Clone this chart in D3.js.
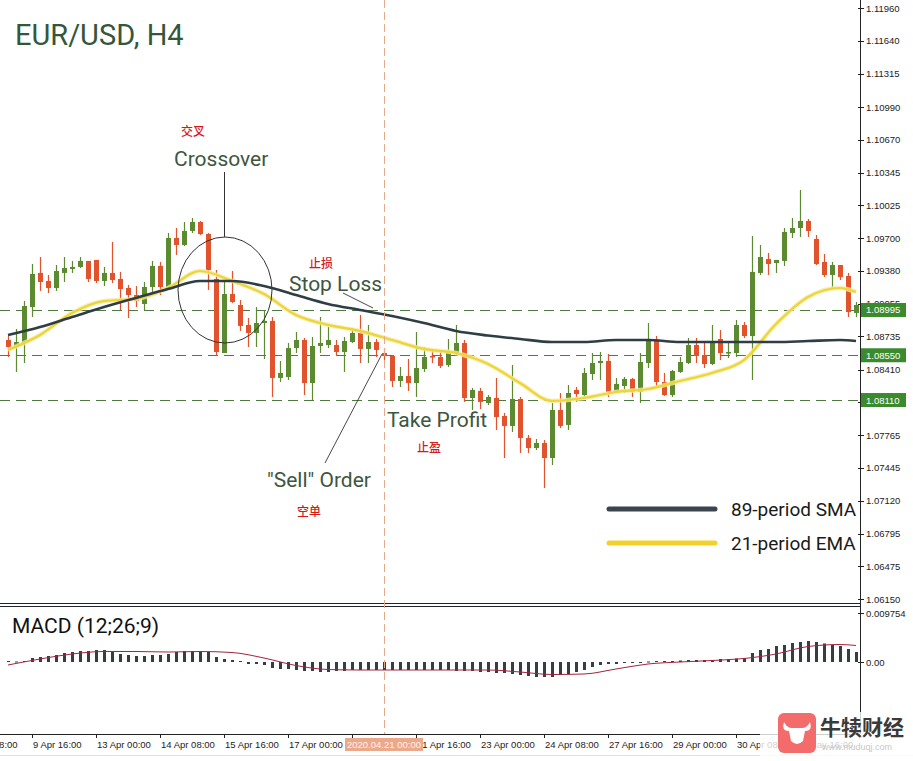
<!DOCTYPE html>
<html><head><meta charset="utf-8">
<script src="https://cdn.jsdelivr.net/npm/d3@7"></script>
<style>
html,body{margin:0;padding:0;background:#fff;}
svg{display:block;}
</style></head>
<body>
<svg id="chart" width="913" height="761"></svg>
<script>
// EUR/USD H4 candles, 8 Apr 2020 .. 1 May 2020
const candleOpen = [1.08700,1.08631,1.08671,1.09024,1.09359,1.09280,1.09211,1.09359,1.09398,1.09418,
1.09477,1.09487,1.09280,1.09359,1.09300,1.09211,1.09142,1.09054,1.09221,1.09428,
1.09211,1.09703,1.09634,1.09772,1.09860,1.09742,1.09300,1.08572,1.09152,1.09044,
1.08848,1.08769,1.08867,1.08887,1.08327,1.08336,1.08621,1.08700,1.08277,1.08641,
1.08651,1.08651,1.08582,1.08680,1.08769,1.08612,1.08680,1.08572,1.08543,1.08297,
1.08346,1.08277,1.08415,1.08543,1.08533,1.08454,1.08572,1.08671,1.08130,1.08199,
1.08081,1.08130,1.07953,1.07855,1.08120,1.07737,1.07638,1.07688,1.07540,1.08012,
1.07865,1.08209,1.08159,1.08366,1.08474,1.08494,1.08189,1.08248,1.08317,1.08189,
1.08474,1.08690,1.08287,1.08159,1.08386,1.08474,1.08651,1.08553,1.08464,1.08710,
1.08572,1.08572,1.08848,1.08739,1.09359,1.09496,1.09457,1.09477,1.09752,1.09801,
1.09870,1.09693,1.09467,1.09339,1.09437,1.09329,1.08966];
const candleHigh = [1.08739,1.08808,1.09083,1.09447,1.09516,1.09339,1.09437,1.09516,1.09477,1.09516,
1.09477,1.09487,1.09418,1.09663,1.09369,1.09241,1.09231,1.09270,1.09477,1.09467,
1.09752,1.09801,1.09860,1.09899,1.09870,1.09752,1.09388,1.09290,1.09378,1.09093,
1.08916,1.09024,1.08995,1.08926,1.08494,1.08671,1.08779,1.08720,1.08730,1.08926,
1.08828,1.08700,1.08730,1.08818,1.08946,1.08848,1.08710,1.08621,1.08553,1.08435,
1.08513,1.08779,1.08631,1.08612,1.08602,1.08710,1.08848,1.08700,1.08228,1.08228,
1.08159,1.08327,1.07983,1.08454,1.08140,1.07766,1.07727,1.07717,1.08081,1.08179,
1.08258,1.08238,1.08425,1.08572,1.08582,1.08562,1.08327,1.08336,1.08327,1.08572,
1.08867,1.08739,1.08376,1.08405,1.08533,1.08720,1.08720,1.08671,1.08848,1.08798,
1.08690,1.08897,1.08877,1.09722,1.09634,1.09555,1.09487,1.09801,1.09899,1.10175,
1.09890,1.09732,1.09545,1.09467,1.09437,1.09359,1.09074];
const candleLow = [1.08533,1.08386,1.08474,1.08926,1.09182,1.09162,1.09182,1.09270,1.09359,1.09408,
1.09270,1.09260,1.09231,1.09260,1.08995,1.08916,1.09024,1.08995,1.09162,1.09142,
1.09201,1.09536,1.09624,1.09752,1.09732,1.09192,1.08543,1.08572,1.09064,1.08789,
1.08631,1.08631,1.08513,1.08140,1.08287,1.08307,1.08572,1.08159,1.08110,1.08572,
1.08621,1.08543,1.08386,1.08671,1.08474,1.08474,1.08533,1.08503,1.08238,1.08238,
1.08199,1.08140,1.08386,1.08474,1.08425,1.08435,1.08553,1.08091,1.08012,1.08022,
1.08061,1.07815,1.07540,1.07796,1.07589,1.07589,1.07619,1.07245,1.07471,1.07835,
1.07815,1.08091,1.08140,1.08307,1.08307,1.08140,1.08179,1.08179,1.08140,1.08081,
1.08425,1.08228,1.08150,1.08140,1.08376,1.08464,1.08474,1.08425,1.08454,1.08503,
1.08523,1.08533,1.08720,1.08307,1.09339,1.09339,1.09359,1.09428,1.09703,1.09713,
1.09713,1.09437,1.09319,1.09211,1.09290,1.08926,1.08926];
const candleClose = [1.08631,1.08680,1.09034,1.09349,1.09270,1.09211,1.09378,1.09408,1.09418,1.09477,
1.09300,1.09280,1.09359,1.09290,1.09201,1.09142,1.09083,1.09221,1.09428,1.09221,
1.09703,1.09634,1.09772,1.09860,1.09742,1.09388,1.08582,1.09152,1.09074,1.08838,
1.08769,1.08867,1.08887,1.08327,1.08376,1.08621,1.08700,1.08277,1.08641,1.08671,
1.08700,1.08582,1.08690,1.08769,1.08612,1.08680,1.08602,1.08543,1.08297,1.08346,
1.08277,1.08425,1.08533,1.08533,1.08445,1.08582,1.08671,1.08130,1.08209,1.08091,
1.08140,1.07943,1.07855,1.08120,1.07737,1.07638,1.07688,1.07540,1.08012,1.07855,
1.08179,1.08169,1.08376,1.08474,1.08494,1.08189,1.08268,1.08317,1.08189,1.08484,
1.08690,1.08287,1.08159,1.08395,1.08484,1.08651,1.08543,1.08464,1.08680,1.08572,
1.08582,1.08848,1.08739,1.09369,1.09516,1.09447,1.09487,1.09762,1.09801,1.09870,
1.09772,1.09447,1.09339,1.09437,1.09319,1.08975,1.09044];

// moving averages, read at every 4th candle
const maCandle = [0,4,8,12,16,20,24,28,32,36,40,44,48,52,56,60,64,68,72,76,80,84,88,92,96,100,104,106];
const sma89 = [1.08749,1.08828,1.08926,1.09024,1.09113,1.09201,1.09280,1.09280,1.09231,1.09142,
1.09054,1.08995,1.08936,1.08867,1.08789,1.08744,1.08710,1.08680,1.08680,1.08700,
1.08700,1.08680,1.08680,1.08680,1.08680,1.08690,1.08700,1.08690];
const ema21 = [1.08602,1.08749,1.08966,1.09083,1.09103,1.09211,1.09378,1.09280,1.09152,1.08946,
1.08848,1.08789,1.08700,1.08612,1.08572,1.08464,1.08277,1.08101,1.08130,1.08189,
1.08218,1.08297,1.08376,1.08503,1.08857,1.09123,1.09211,1.09172];

// MACD (12;26;9)
const macdHist = [0.0002,0.0001,0.0002,0.0008,0.0010,0.0012,0.0014,0.0018,0.0020,0.0022,
0.0022,0.0024,0.0024,0.0022,0.0016,0.0014,0.0012,0.0012,0.0014,0.0014,
0.0016,0.0020,0.0022,0.0022,0.0022,0.0020,0.0010,0.0006,0.0004,0.0002,
-0.0004,-0.0004,-0.0006,-0.0012,-0.0014,-0.0014,-0.0016,-0.0018,-0.0018,-0.0020,
-0.0020,-0.0018,-0.0018,-0.0016,-0.0016,-0.0016,-0.0016,-0.0016,-0.0016,-0.0016,
-0.0016,-0.0016,-0.0016,-0.0016,-0.0016,-0.0016,-0.0018,-0.0018,-0.0018,-0.0020,
-0.0020,-0.0022,-0.0022,-0.0024,-0.0026,-0.0028,-0.0030,-0.0030,-0.0030,-0.0026,
-0.0024,-0.0020,-0.0016,-0.0010,-0.0006,-0.0004,-0.0004,-0.0002,-0.0002,-0.0002,
0.0001,0.0002,0.0002,0.0002,0.0003,0.0004,0.0004,0.0004,0.0004,0.0006,
0.0006,0.0007,0.0008,0.0018,0.0024,0.0026,0.0032,0.0034,0.0038,0.0040,
0.0042,0.0040,0.0037,0.0034,0.0032,0.0026,0.0020];
const macdSignal = [-0.0006,0.0006,0.0016,0.0021,0.0021,0.0020,0.0021,0.0019,0.0008,-0.0007,
-0.0015,-0.0016,-0.0016,-0.0016,-0.0016,-0.0016,-0.0020,-0.0025,-0.0024,-0.0014,
-0.0004,0.0000,0.0003,0.0007,0.0016,0.0031,0.0035,0.0033];

// axes
const priceTicks = [1.11960,1.11640,1.11315,1.10990,1.10670,1.10345,1.10025,1.09700,1.09380,1.09055,
1.08735,1.08410,1.08090,1.07765,1.07445,1.07120,1.06795,1.06475,1.06150];
const levelPrices = [1.08995,1.08550,1.08110];
const macdTicks = [0.009754,0];
const macdTickText = ["0.009754","0.00"];
const timeTickCandle = [-5,3,11,19,27,35,43,51,59,67,75,83,91,99];
const timeTickText = ["8 Apr 08:00","9 Apr 16:00","13 Apr 00:00","14 Apr 08:00","15 Apr 16:00","17 Apr 00:00",
"20 Apr 08:00","21 Apr 16:00","23 Apr 00:00","24 Apr 08:00","27 Apr 16:00","29 Apr 00:00","30 Apr 08:00","1 May 16:00"];
const markerCandle = 47;
const markerText = "2020.04.21 00:00";

const axisX = 860;
const svg = d3.select('#chart');
const x = d3.scaleLinear().domain([-1, 106.5]).range([0, axisX]);
const y = d3.scaleLinear().domain([1.06105, 1.12042]).range([604, 0]);
const ym = d3.scaleLinear().domain([-0.0144, 0.0110]).range([734, 607]);

const defs = svg.append('defs');
defs.append('clipPath').attr('id','mainClip').append('rect').attr('x',0).attr('y',0).attr('width',axisX).attr('height',603);
defs.append('clipPath').attr('id','macdClip').append('rect').attr('x',0).attr('y',607).attr('width',axisX).attr('height',127);

const axisFont = '"Liberation Sans", Arial, sans-serif';
const labelFont = 'Roboto, "Noto Sans", sans-serif';
const cjkFont = '"Noto Sans CJK SC", sans-serif';

// ---------- main pane ----------
const main = svg.append('g').attr('clip-path','url(#mainClip)');

// order levels
main.selectAll('line.level').data(levelPrices).join('line')
  .attr('class','level')
  .attr('x1',0).attr('x2',axisX)
  .attr('y1',d=>Math.round(y(d))+0.5).attr('y2',d=>Math.round(y(d))+0.5)
  .attr('stroke','#4e7a42').attr('stroke-width',1).attr('stroke-dasharray','10,6');

// candles
const candles = d3.range(candleOpen.length).map(i=>({
  i, o:candleOpen[i], h:candleHigh[i], l:candleLow[i], c:candleClose[i]
}));
const up = '#5b8a31', down = '#e1532d';
const cg = main.append('g');
cg.selectAll('line.wick').data(candles).join('line')
  .attr('class','wick')
  .attr('x1',d=>Math.round(x(d.i))+0.5).attr('x2',d=>Math.round(x(d.i))+0.5)
  .attr('y1',d=>y(d.h)).attr('y2',d=>y(d.l))
  .attr('stroke',d=>d.c>=d.o?up:down).attr('stroke-width',1.2);
cg.selectAll('rect.body').data(candles).join('rect')
  .attr('class','body')
  .attr('x',d=>Math.round(x(d.i))-2)
  .attr('width',5)
  .attr('y',d=>y(Math.max(d.o,d.c)))
  .attr('height',d=>Math.max(1.5, Math.abs(y(d.o)-y(d.c))))
  .attr('fill',d=>d.c>=d.o?up:down);

// moving averages
const maLine = vals => d3.line()
  .x((d,k)=>x(maCandle[k]))
  .y(d=>y(d))
  .curve(d3.curveMonotoneX)(vals);
main.append('path').attr('d',maLine(ema21)).attr('fill','none')
  .attr('stroke','#f4eba0').attr('stroke-width',4.5).attr('stroke-opacity',0.8);
main.append('path').attr('d',maLine(ema21)).attr('fill','none')
  .attr('stroke','#ecd43a').attr('stroke-width',2.2);
main.append('path').attr('d',maLine(sma89)).attr('fill','none')
  .attr('stroke','#2f3d44').attr('stroke-width',2.6);

// ---------- annotations ----------
const ann = svg.append('g');
ann.append('text').attr('x',15).attr('y',45).text('EUR/USD, H4')
  .attr('font-family',labelFont).attr('font-size',29).attr('fill','#34573a');

const annColor = '#3d5640';
const tags = [
  {t:'Crossover', x:174, y:166},
  {t:'Stop Loss', x:289, y:291},
  {t:'Take Profit', x:387, y:427},
  {t:'"Sell" Order', x:267, y:487}
];
ann.selectAll('text.tag').data(tags).join('text').attr('class','tag')
  .attr('x',d=>d.x).attr('y',d=>d.y).text(d=>d.t)
  .attr('font-family',labelFont).attr('font-size',21).attr('fill',annColor);
const cn = [
  {t:'交叉', x:181, y:136},
  {t:'止损', x:309, y:268},
  {t:'止盈', x:417, y:452},
  {t:'空单', x:297, y:516}
];
ann.selectAll('text.cn').data(cn).join('text').attr('class','cn')
  .attr('x',d=>d.x).attr('y',d=>d.y).text(d=>d.t)
  .attr('font-family',cjkFont).attr('font-size',12).attr('font-weight',500).attr('fill','#d41a1a');

// crossover marker
ann.append('line').attr('x1',224.5).attr('x2',224.5).attr('y1',172).attr('y2',237)
  .attr('stroke','#333').attr('stroke-width',1);
ann.append('ellipse').attr('cx',225).attr('cy',290).attr('rx',47).attr('ry',53)
  .attr('fill','none').attr('stroke','#333').attr('stroke-width',1);
// pointers
ann.append('line').attr('x1',343).attr('y1',293).attr('x2',373).attr('y2',308)
  .attr('stroke','#333').attr('stroke-width',0.9);
ann.append('line').attr('x1',325).attr('y1',463).attr('x2',x(markerCandle)-2).attr('y2',y(candleOpen[markerCandle])+1)
  .attr('stroke','#333').attr('stroke-width',0.9);

// legend
const legend = [
  {t:'89-period SMA', c:'#3a454e', yy:509},
  {t:'21-period EMA', c:'#f3d12b', yy:543}
];
const lg = svg.append('g');
lg.selectAll('line').data(legend).join('line')
  .attr('x1',609).attr('x2',715).attr('y1',d=>d.yy).attr('y2',d=>d.yy)
  .attr('stroke',d=>d.c).attr('stroke-width',5).attr('stroke-linecap','round');
lg.selectAll('text').data(legend).join('text')
  .attr('x',731).attr('y',d=>d.yy+7).text(d=>d.t)
  .attr('font-family',labelFont).attr('font-size',19).attr('fill','#1a1a1a');

// ---------- MACD pane ----------
const mg = svg.append('g').attr('clip-path','url(#macdClip)');
mg.selectAll('rect').data(macdHist).join('rect')
  .attr('x',(d,i)=>Math.round(x(i))-1)
  .attr('width',3)
  .attr('y',d=>Math.min(ym(0),ym(d)))
  .attr('height',d=>Math.max(1,Math.abs(ym(d)-ym(0))))
  .attr('fill','#333f45');
mg.append('path')
  .attr('d',d3.line().x((d,k)=>x(maCandle[k])).y(d=>ym(d)).curve(d3.curveMonotoneX)(macdSignal))
  .attr('fill','none').attr('stroke','#a3253c').attr('stroke-width',1);
svg.append('text').attr('x',12).attr('y',633).text('MACD (12;26;9)')
  .attr('font-family',labelFont).attr('font-size',21).attr('fill','#111');

// pane separators
svg.append('line').attr('x1',0).attr('x2',axisX).attr('y1',603.5).attr('y2',603.5).attr('stroke','#1e2430');
svg.append('line').attr('x1',0).attr('x2',axisX).attr('y1',606.5).attr('y2',606.5).attr('stroke','#1e2430');

// crosshair at the sell candle
svg.append('line').attr('x1',Math.round(x(markerCandle))+0.5).attr('x2',Math.round(x(markerCandle))+0.5)
  .attr('y1',0).attr('y2',734)
  .attr('stroke','#e6a98c').attr('stroke-width',1).attr('stroke-dasharray','8,4');

// ---------- right price axis ----------
const ra = svg.append('g').attr('font-family',axisFont).attr('font-size',9.5).attr('fill','#222');
ra.append('line').attr('x1',axisX+0.5).attr('x2',axisX+0.5).attr('y1',0).attr('y2',734).attr('stroke','#222');
ra.selectAll('line.tk').data(priceTicks).join('line').attr('class','tk')
  .attr('x1',axisX-2).attr('x2',axisX+4)
  .attr('y1',d=>Math.round(y(d))+0.5).attr('y2',d=>Math.round(y(d))+0.5).attr('stroke','#222');
ra.selectAll('text.tk').data(priceTicks).join('text').attr('class','tk')
  .attr('x',866).attr('y',d=>y(d)+3.5).text(d=>d3.format('.5f')(d));
ra.selectAll('line.mt').data(macdTicks).join('line').attr('class','mt')
  .attr('x1',axisX-2).attr('x2',axisX+4)
  .attr('y1',d=>Math.round(ym(d))+0.5).attr('y2',d=>Math.round(ym(d))+0.5).attr('stroke','#222');
ra.selectAll('text.mt').data(macdTicks).join('text').attr('class','mt')
  .attr('x',866).attr('y',d=>ym(d)+4).text((d,i)=>macdTickText[i]);
// level price tags
const lv = ra.selectAll('g.lv').data(levelPrices).join('g').attr('class','lv');
lv.append('rect').attr('x',axisX+1).attr('width',45).attr('y',d=>y(d)-7).attr('height',14).attr('fill','#3c8a2e');
lv.append('text').attr('x',866).attr('y',d=>y(d)+3.5).text(d=>d3.format('.5f')(d)).attr('fill','#fff');

// ---------- time axis ----------
const ta = svg.append('g').attr('font-family',axisFont).attr('font-size',9.5).attr('fill','#222');
ta.append('line').attr('x1',0).attr('x2',axisX).attr('y1',734.5).attr('y2',734.5).attr('stroke','#222');
ta.append('line').attr('x1',0).attr('x2',913).attr('y1',755.5).attr('y2',755.5).attr('stroke','#e2e2e2');
ta.selectAll('line.tt').data(timeTickCandle).join('line').attr('class','tt')
  .attr('x1',d=>Math.round(x(d))+0.5).attr('x2',d=>Math.round(x(d))+0.5)
  .attr('y1',734).attr('y2',738).attr('stroke','#222');
ta.selectAll('text.tt').data(timeTickCandle).join('text').attr('class','tt')
  .attr('x',d=>x(d)+1).attr('y',748).text((d,i)=>timeTickText[i]);
ta.append('rect').attr('x',x(markerCandle)-39).attr('y',738).attr('width',78).attr('height',13).attr('fill','#eca88a');
ta.append('text').attr('x',x(markerCandle)).attr('y',748).attr('text-anchor','middle')
  .text(markerText).attr('fill','#fff3ee');

// ---------- brand mark ----------
const wm = svg.append('g');
wm.append('rect').attr('x',760).attr('y',712).attr('width',153).attr('height',49).attr('fill','#fff').attr('fill-opacity',0.78);
wm.append('rect').attr('x',778).attr('y',713).attr('width',38).attr('height',40).attr('rx',6).attr('fill','#f36b6b');
wm.append('path').attr('transform','translate(797,733)')
  .attr('d','M-13,-11 Q-16,-2 -8,-2 L-6,8 Q0,14 6,8 L8,-2 Q16,-2 13,-11 Q10,-5 5,-5 L-5,-5 Q-10,-5 -13,-11 Z')
  .attr('fill','#fff');
wm.append('text').attr('x',820).attr('y',735).text('牛犊财经')
  .attr('font-family',cjkFont).attr('font-size',21).attr('font-weight',700).attr('fill','#3a3a3a');
wm.append('text').attr('x',822).attr('y',750).text('www.niuduqj.com')
  .attr('font-family',axisFont).attr('font-size',9).attr('fill','#c8c8c8');
</script>
</body></html>
